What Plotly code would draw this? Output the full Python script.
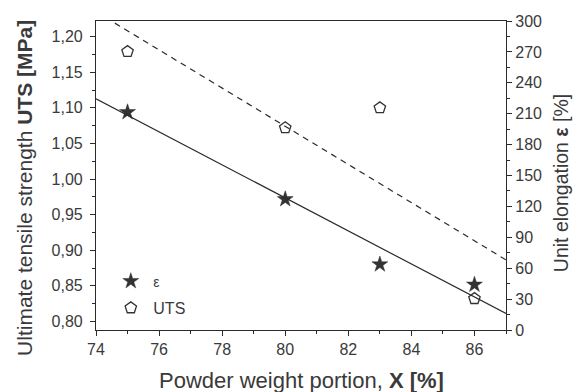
import plotly.graph_objects as go

# Data
x_pts = [75, 80, 83, 86]
uts_vals = [1.179, 1.072, 1.100, 0.832]       # UTS [MPa], left axis
eps_vals = [211.5, 127.0, 63.7, 44.0]          # elongation [%], right axis

fit_x = [74, 87]
uts_fit = [1.235, 0.8865]                      # dashed trend line (left axis)
eps_fit = [224.5, 16.0]                        # solid trend line (right axis)

x_ticks = [74, 76, 78, 80, 82, 84, 86]

dark = "#2a2a2a"
txt = "#3a3a3a"
font_family = "Liberation Sans, Arial, sans-serif"

fig = go.Figure()

fig.add_trace(go.Scatter(
    x=x_pts, y=eps_vals, mode="markers",
    name="<span style='font-size:14px'>ε</span>", yaxis="y2",
    legendgroup="eps",
    marker=dict(symbol="star", size=12, color="#333333",
                line=dict(width=0.5, color="#333333")),
))
fig.add_trace(go.Scatter(
    x=x_pts, y=uts_vals, mode="markers", name="UTS", yaxis="y",
    legendgroup="uts",
    marker=dict(symbol="pentagon-open", size=12, color="#333333",
                line=dict(width=1.3, color="#333333")),
))
fig.add_trace(go.Scatter(
    x=fit_x, y=eps_fit, mode="lines", yaxis="y2", showlegend=False,
    line=dict(color=dark, width=1.2),
))
fig.add_trace(go.Scatter(
    x=fit_x, y=uts_fit, mode="lines", yaxis="y", showlegend=False,
    line=dict(color=dark, width=1.2, dash="6px,5px"),
))

axis_common = dict(
    showgrid=False, zeroline=False, showline=True, linecolor=dark,
    linewidth=1.2, ticks="outside", ticklen=5, tickwidth=1, tickcolor=dark,
    tickfont=dict(size=16, color=txt, family=font_family),
    automargin=False,
)

title_font = dict(size=22, color=txt, family=font_family)

fig.update_layout(
    width=573, height=392,
    margin=dict(l=96, r=67, t=21, b=62, autoexpand=False),
    paper_bgcolor="white", plot_bgcolor="white",
    separators=", ",
    font=dict(family=font_family, color=txt),
    xaxis=dict(
        **axis_common, range=[74, 87], tickvals=x_ticks, mirror=True,
        minor=dict(ticks="outside", ticklen=3, dtick=1, tick0=74, tickcolor=dark),
    ),
    yaxis=dict(
        **axis_common, range=[0.788, 1.222], tick0=0.8, dtick=0.05,
        tickformat=".2f", ticklabelstandoff=4,
        minor=dict(ticks="outside", ticklen=3, dtick=0.025, tick0=0.8, tickcolor=dark),
    ),
    yaxis2=dict(
        **axis_common, range=[0, 300], tick0=0, dtick=30,
        overlaying="y", side="right",
        minor=dict(ticks="outside", ticklen=3, dtick=15, tick0=0, tickcolor=dark),
    ),
    legend=dict(
        x=0.03, y=0.213, xanchor="left", yanchor="top",
        bgcolor="rgba(0,0,0,0)", font=dict(size=16, color=txt),
        traceorder="grouped", tracegroupgap=3, itemwidth=35,
    ),
    showlegend=True,
    annotations=[
        dict(text="Powder weight portion, <b>X [%]</b>", xref="paper", yref="paper",
             x=0.5, y=-0.165, xanchor="center", yanchor="middle",
             showarrow=False, font=title_font),
        dict(text="Ultimate tensile strength <b>UTS [MPa]</b>", xref="paper", yref="paper",
             x=-0.173, y=0.46, xanchor="center", yanchor="middle", textangle=-90,
             showarrow=False, font=dict(size=21, color=txt, family=font_family)),
        dict(text="Unit elongation <b>ε</b> [%]", xref="paper", yref="paper",
             x=1.134, y=0.475, xanchor="center", yanchor="middle", textangle=-90,
             showarrow=False, font=dict(size=19.5, color=txt, family=font_family)),
    ],
)

fig.write_html("out.html")
